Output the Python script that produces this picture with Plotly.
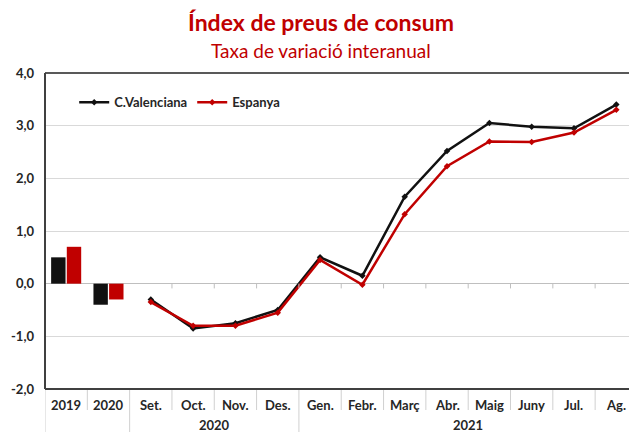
import plotly.graph_objects as go

categories = ["2019", "2020", "Set.", "Oct.", "Nov.", "Des.", "Gen.", "Febr.", "Març", "Abr.", "Maig", "Juny", "Jul.", "Ag."]
bar_categories = ["2019", "2020"]
line_categories = categories[2:]
cv_bars = [0.5, -0.4]
es_bars = [0.7, -0.3]
cv_line = [-0.3, -0.85, -0.75, -0.5, 0.5, 0.15, 1.65, 2.52, 3.05, 2.98, 2.95, 3.4]
es_line = [-0.35, -0.8, -0.8, -0.55, 0.45, -0.02, 1.32, 2.23, 2.7, 2.69, 2.87, 3.3]
groups = [("2020", 1.5, 5.5), ("2021", 5.5, 13.5)]
yticks = [-2, -1, 0, 1, 2, 3, 4]
title = "Índex de preus de consum"
subtitle = "Taxa de variació interanual"

BLACK = "#111111"
RED = "#c00000"
FONT = "Lato"
TXT = "#262626"

idx = {c: i for i, c in enumerate(categories)}
fig = go.Figure()
fig.add_trace(go.Bar(x=[idx[c] for c in bar_categories], y=cv_bars, marker=dict(color=BLACK, line=dict(width=0)),
                     showlegend=False, offsetgroup="a"))
fig.add_trace(go.Bar(x=[idx[c] for c in bar_categories], y=es_bars, marker=dict(color=RED, line=dict(width=0)),
                     showlegend=False, offsetgroup="b"))
fig.add_trace(go.Scatter(x=[idx[c] for c in line_categories], y=cv_line, mode="lines+markers", name="C.Valenciana",
                         line=dict(color=BLACK, width=2.5), marker=dict(symbol="diamond", size=5, color=BLACK)))
fig.add_trace(go.Scatter(x=[idx[c] for c in line_categories], y=es_line, mode="lines+markers", name="Espanya",
                         line=dict(color=RED, width=2.5), marker=dict(symbol="diamond", size=5, color=RED)))

PH = 316
shapes = []
for k in range(2, 13):
    shapes.append(dict(type="line", xref="x", yref="y", x0=k + 0.5, x1=k + 0.5, y0=0, y1=-0.09,
                       line=dict(color="#bfbfbf", width=1)))
long_seps = {-0.5, 1.5, 5.5}
for k in range(-1, 14):
    xb = k + 0.5
    ln = 43 / PH if xb in long_seps else 21 / PH
    shapes.append(dict(type="line", xref="x", yref="paper", x0=xb, x1=xb, y0=0, y1=-ln,
                       line=dict(color="#d0d0d0", width=1)))
shapes.append(dict(type="line", xref="paper", yref="paper", x0=0, x1=1, y0=1, y1=1, line=dict(color="#595959", width=2)))
shapes.append(dict(type="line", xref="paper", yref="paper", x0=0, x1=1, y0=0, y1=0, line=dict(color="#404040", width=2)))
shapes.append(dict(type="line", xref="paper", yref="paper", x0=0, x1=0, y0=0, y1=1, line=dict(color="#404040", width=2)))

annotations = []
for c in categories:
    annotations.append(dict(x=idx[c], y=0, xref="x", yref="paper", text=f"<b>{c}</b>", showarrow=False,
                            yanchor="middle", yshift=-16, font=dict(family=FONT, size=13, color=TXT)))
for name, a, b in groups:
    annotations.append(dict(x=(a + b) / 2, y=0, xref="x", yref="paper", text=f"<b>{name}</b>", showarrow=False,
                            yanchor="middle", yshift=-36, font=dict(family=FONT, size=13, color=TXT)))
annotations.append(dict(x=0.5, y=1, xref="paper", yref="paper", yanchor="middle", xanchor="center", showarrow=False,
                        xshift=-16, yshift=51, text=f"<b>{title}</b>", font=dict(family=FONT, size=23, color=RED)))
annotations.append(dict(x=0.5, y=1, xref="paper", yref="paper", yanchor="middle", xanchor="center", showarrow=False,
                        xshift=-16, yshift=23, text=subtitle, font=dict(family=FONT, size=19, color=RED)))

ticktext = [f"{v:.1f}".replace(".", ",") for v in yticks]

fig.update_layout(
    width=629, height=432,
    margin=dict(l=45, r=0, t=73, b=43),
    paper_bgcolor="white", plot_bgcolor="white",
    barmode="group", bargap=0.26, bargroupgap=0.08,
    font=dict(family=FONT, color=TXT),
    xaxis=dict(range=[-0.5, 13.3], showticklabels=False, showgrid=False, zeroline=False, ticks="", fixedrange=True),
    yaxis=dict(range=[-2, 4], tickvals=yticks, ticktext=ticktext, showgrid=True, gridcolor="#d9d9d9", gridwidth=1,
               zeroline=True, zerolinecolor="#bfbfbf", zerolinewidth=1, ticks="", ticklabelstandoff=10,
               tickfont=dict(family=FONT, size=13, color=TXT, weight="bold")),
    legend=dict(orientation="h", x=0.05, y=0.955, xanchor="left", yanchor="top", bgcolor="rgba(0,0,0,0)",
                font=dict(family=FONT, size=13, color=TXT, weight="bold"), itemwidth=30, tracegroupgap=0),
    shapes=shapes,
    annotations=annotations,
)
fig.write_html("out.html", config={"displayModeBar": False},
               post_script="document.body.style.margin='0';document.body.style.padding='0';")
